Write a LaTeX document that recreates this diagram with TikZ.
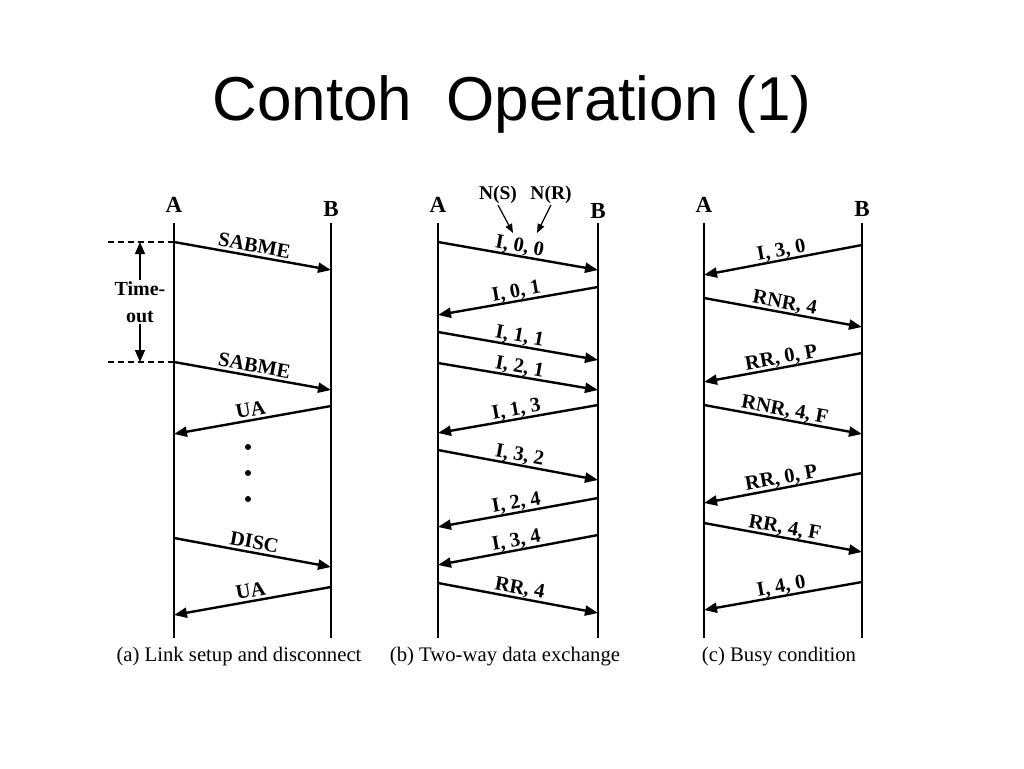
\documentclass[tikz,border=0pt]{standalone}
\usepackage{fontspec}
\setmainfont{Liberation Serif}
\newfontfamily\titlefont{Liberation Sans}
\usetikzlibrary{arrows.meta}
\begin{document}
\begin{tikzpicture}[x=1pt,y=-1pt,
  life/.style={line width=2.6pt},
  msg/.style={line width=2.4pt,-{Triangle[length=13pt,width=10pt]}},
  lbl/.style={midway,anchor=base,inner sep=0pt,font=\fontsize{20.5}{22}\selectfont\bfseries},
  lblR/.style={lbl,rotate=-10.3,yshift=4pt},
  lblL/.style={lbl,rotate=10.3,yshift=4pt},
  ent/.style={font=\fontsize{23}{25}\selectfont\bfseries},
  capt/.style={font=\fontsize{20.7}{22}\selectfont},
  guide/.style={line width=1.2pt,dash pattern=on 6pt off 4pt},
  thinarrow/.style={line width=1.3pt,-{Triangle[length=12pt,width=10pt]}},
  ptr/.style={line width=1.2pt,-{Triangle[length=9pt,width=7pt]}},
  dotm/.style={circle,fill=black,inner sep=0pt,minimum size=6pt}
]
\useasboundingbox (0,0) rectangle (1024,768);
\node[anchor=base,font=\titlefont\fontsize{62}{70}\selectfont] (title) at (512,120) {Contoh\hspace{0.55em}Operation (1)};

% ---------------- Panel (a)
\node[ent] (aA) at (174,205) {A};
\node[ent] (aB) at (331,209) {B};
\coordinate (aAt) at (174,223); \coordinate (aAb) at (174,638);
\coordinate (aBt) at (331,223); \coordinate (aBb) at (331,638);
\draw[life] (aAt) -- (aAb);
\draw[life] (aBt) -- (aBb);
\coordinate (a1s) at (174,242); \coordinate (a1e) at (331,270);
\coordinate (a2s) at (174,362); \coordinate (a2e) at (331,390);
\coordinate (a3s) at (331,406); \coordinate (a3e) at (174,434);
\coordinate (a4s) at (174,538); \coordinate (a4e) at (331,567);
\coordinate (a5s) at (331,587); \coordinate (a5e) at (174,615);
\draw[msg] (a1s) -- node[lblR] {SABME} (a1e);
\draw[msg] (a2s) -- node[lblR] {SABME} (a2e);
\draw[msg] (a3s) -- node[lblL] {UA} (a3e);
\draw[msg] (a4s) -- node[lblR] {DISC} (a4e);
\draw[msg] (a5s) -- node[lblL] {UA} (a5e);
\coordinate (g1) at (108,242); \coordinate (g2) at (108,362);
\draw[guide] (g1) -- (a1s);
\draw[guide] (g2) -- (a2s);
\node[align=center,font=\fontsize{20}{27}\selectfont\bfseries,inner sep=1pt] (tout) at (140,302) {Time-\\out};
\coordinate (t1) at (140,242); \coordinate (t2) at (140,362);
\draw[thinarrow] (tout.north) -- (t1);
\draw[thinarrow] (tout.south) -- (t2);
\node[dotm] (d1) at (248,447) {};
\node[dotm] (d2) at (248,473) {};
\node[dotm] (d3) at (248,499) {};
\node[capt] (capa) at (239,657) {(a) Link setup and disconnect};

% ---------------- Panel (b)
\node[ent] (bA) at (438,205) {A};
\node[ent] (bB) at (598,211) {B};
\coordinate (bAt) at (438,223); \coordinate (bAb) at (438,638);
\coordinate (bBt) at (598,223); \coordinate (bBb) at (598,638);
\draw[life] (bAt) -- (bAb);
\draw[life] (bBt) -- (bBb);
\node[font=\fontsize{19.5}{21}\selectfont\bfseries,inner sep=1pt] (ns) at (498,195) {N(S)};
\node[font=\fontsize{19.5}{21}\selectfont\bfseries,inner sep=1pt] (nr) at (551,195) {N(R)};
\coordinate (nsT) at (513,233); \coordinate (nrT) at (537,233);
\draw[ptr] (ns.south) -- (nsT);
\draw[ptr] (nr.south) -- (nrT);
\coordinate (b1s) at (438,242); \coordinate (b1e) at (598,270);
\coordinate (b2s) at (598,287); \coordinate (b2e) at (438,315);
\coordinate (b3s) at (438,332); \coordinate (b3e) at (598,360);
\coordinate (b4s) at (438,363); \coordinate (b4e) at (598,390);
\coordinate (b5s) at (598,405); \coordinate (b5e) at (438,433);
\coordinate (b6s) at (438,450); \coordinate (b6e) at (598,480);
\coordinate (b7s) at (598,498); \coordinate (b7e) at (438,527);
\coordinate (b8s) at (598,535); \coordinate (b8e) at (438,565);
\coordinate (b9s) at (438,583); \coordinate (b9e) at (598,613);
\draw[msg] (b1s) -- node[lblR] {I, 0, 0} (b1e);
\draw[msg] (b2s) -- node[lblL] {I, 0, 1} (b2e);
\draw[msg] (b3s) -- node[lblR] {I, 1, 1} (b3e);
\draw[msg] (b4s) -- node[lblR] {I, 2, 1} (b4e);
\draw[msg] (b5s) -- node[lblL] {I, 1, 3} (b5e);
\draw[msg] (b6s) -- node[lblR] {I, 3, 2} (b6e);
\draw[msg] (b7s) -- node[lblL] {I, 2, 4} (b7e);
\draw[msg] (b8s) -- node[lblL] {I, 3, 4} (b8e);
\draw[msg] (b9s) -- node[lblR] {RR, 4} (b9e);
\node[capt] (capb) at (505,657) {(b) Two-way data exchange};

% ---------------- Panel (c)
\node[ent] (cA) at (704,205) {A};
\node[ent] (cB) at (862,209) {B};
\coordinate (cAt) at (704,223); \coordinate (cAb) at (704,638);
\coordinate (cBt) at (862,223); \coordinate (cBb) at (862,638);
\draw[life] (cAt) -- (cAb);
\draw[life] (cBt) -- (cBb);
\coordinate (c1s) at (862,245); \coordinate (c1e) at (704,275);
\coordinate (c2s) at (704,298); \coordinate (c2e) at (862,327);
\coordinate (c3s) at (862,353); \coordinate (c3e) at (704,382);
\coordinate (c4s) at (704,405); \coordinate (c4e) at (862,434);
\coordinate (c5s) at (862,473); \coordinate (c5e) at (704,503);
\coordinate (c6s) at (704,523); \coordinate (c6e) at (862,552);
\coordinate (c7s) at (862,582); \coordinate (c7e) at (704,610);
\draw[msg] (c1s) -- node[lblL] {I, 3, 0} (c1e);
\draw[msg] (c2s) -- node[lblR] {RNR, 4} (c2e);
\draw[msg] (c3s) -- node[lblL] {RR, 0, P} (c3e);
\draw[msg] (c4s) -- node[lblR] {RNR, 4, F} (c4e);
\draw[msg] (c5s) -- node[lblL] {RR, 0, P} (c5e);
\draw[msg] (c6s) -- node[lblR] {RR, 4, F} (c6e);
\draw[msg] (c7s) -- node[lblL] {I, 4, 0} (c7e);
\node[capt] (capc) at (779,657) {(c) Busy condition};
\end{tikzpicture}
\end{document}
